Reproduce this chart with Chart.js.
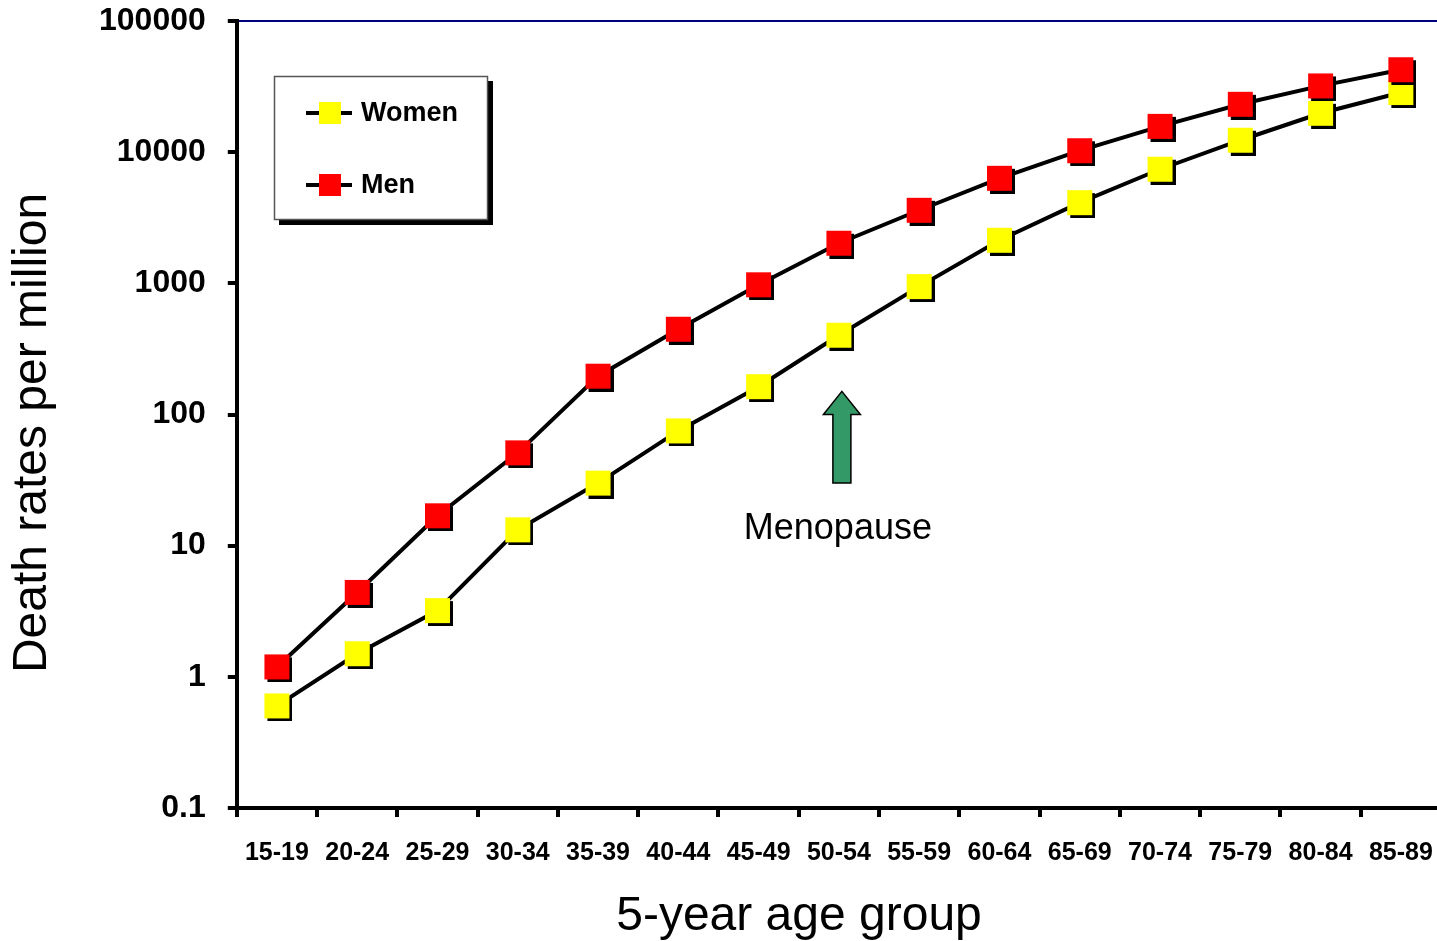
<!DOCTYPE html>
<html>
<head>
<meta charset="utf-8">
<script src="https://cdn.jsdelivr.net/npm/chart.js@4.4.0/dist/chart.umd.min.js"></script>
<style>
  html, body { margin: 0; padding: 0; overflow: hidden; background: #fff; }
  canvas { display: block; }
</style>
</head>
<body>
<canvas id="myChart" width="1460" height="941"></canvas>
<script>
// age groups on the x axis
const ageGroups = ["15-19", "20-24", "25-29", "30-34", "35-39", "40-44", "45-49", "50-54",
                   "55-59", "60-64", "65-69", "70-74", "75-79", "80-84", "85-89"];

// death rates per million
const women = [0.6, 1.5, 3.2, 13.2, 30, 75, 163, 402, 944, 2130, 4120, 7410, 12330, 19800, 28500];
const men   = [1.19, 4.4, 16.9, 51, 196, 447, 975, 2022, 3606, 6324, 10260, 15740, 23170, 32000, 42500];

const yTicks = [0.1, 1, 10, 100, 1000, 10000, 100000];

const seriesNames = ["Women", "Men"];
const seriesColors = ["#ffff00", "#ff0000"];
const xTitle = "5-year age group";
const yTitle = "Death rates per million";

// menopause arrow (in data units)
const arrowGroup = "50-54";
const arrowTip = 150, arrowHead = 100, arrowTail = 30, noteAt = 13.3;
const noteLabel = "Menopause";

Chart.defaults.font.family = '"Liberation Sans", Arial, Helvetica, sans-serif';
Chart.defaults.color = "#000";

// square marker with a black drop shadow
function squareMarker(color){
  const c = document.createElement("canvas");
  c.width = 31; c.height = 31;
  const g = c.getContext("2d");
  g.fillStyle = "#000";
  g.fillRect(6, 6, 25, 25);
  g.fillStyle = color;
  g.fillRect(3, 3, 25, 25);
  return c;
}

const extras = {
  id: "extras",
  afterDatasetsDraw(chart){
    const ctx = chart.ctx;
    const x = chart.scales.x, y = chart.scales.y;

    // arrow
    const ax = x.getPixelForValue(ageGroups.indexOf(arrowGroup)) + 3;
    const yt = y.getPixelForValue(arrowTip);
    const yh = y.getPixelForValue(arrowHead);
    const yb = y.getPixelForValue(arrowTail);
    ctx.save();
    ctx.beginPath();
    ctx.moveTo(ax, yt);
    ctx.lineTo(ax + 18.5, yh);
    ctx.lineTo(ax + 9, yh);
    ctx.lineTo(ax + 9, yb);
    ctx.lineTo(ax - 9, yb);
    ctx.lineTo(ax - 9, yh);
    ctx.lineTo(ax - 18.5, yh);
    ctx.closePath();
    ctx.fillStyle = "#339966";
    ctx.fill();
    ctx.lineWidth = 1.5;
    ctx.strokeStyle = "#000";
    ctx.stroke();

    ctx.font = '36px "Liberation Sans", Arial, sans-serif';
    ctx.textAlign = "center";
    ctx.textBaseline = "middle";
    ctx.fillStyle = "#000";
    ctx.fillText(noteLabel, ax - 4, y.getPixelForValue(noteAt));

    // axis titles
    ctx.font = '48px "Liberation Sans", Arial, sans-serif';
    ctx.fillText(xTitle, 799, 917);
    ctx.save();
    ctx.translate(33, 433);
    ctx.rotate(-Math.PI / 2);
    ctx.fillText(yTitle, 0, 0);
    ctx.restore();

    // legend box
    ctx.fillStyle = "#000";
    ctx.fillRect(279, 81, 214, 144);
    ctx.fillStyle = "#fff";
    ctx.fillRect(274, 76, 214, 144);
    ctx.lineWidth = 1.5;
    ctx.strokeStyle = "#555";
    ctx.strokeRect(274.5, 76.5, 213, 143);

    ctx.font = 'bold 27px "Liberation Sans", Arial, sans-serif';
    ctx.textAlign = "left";
    for (let i = 0; i < seriesNames.length; i++){
      const cy = 113 + i * 72;
      ctx.beginPath();
      ctx.moveTo(306, cy);
      ctx.lineTo(352, cy);
      ctx.lineWidth = 4;
      ctx.strokeStyle = "#000";
      ctx.stroke();
      ctx.fillStyle = seriesColors[i];
      ctx.fillRect(319, cy - 11, 22, 22);
      ctx.fillStyle = "#000";
      ctx.fillText(seriesNames[i], 361, cy + 1);
    }
    ctx.restore();
  }
};

const myChart = new Chart(document.getElementById("myChart").getContext("2d"), {
  type: "line",
  data: {
    labels: ageGroups,
    datasets: [{
      label: seriesNames[0],
      data: women,
      borderColor: "#000",
      borderWidth: 4,
      pointStyle: squareMarker(seriesColors[0]),
      pointRadius: 15,
      pointHoverRadius: 15,
      order: 1
    }, {
      label: seriesNames[1],
      data: men,
      borderColor: "#000",
      borderWidth: 4,
      pointStyle: squareMarker(seriesColors[1]),
      pointRadius: 15,
      pointHoverRadius: 15,
      order: 0
    }]
  },
  options: {
    responsive: false,
    animation: false,
    devicePixelRatio: 1,
    layout: { padding: { top: 21, right: 0, left: 77, bottom: 52 } },
    plugins: { legend: { display: false }, tooltip: { enabled: false } },
    scales: {
      x: {
        offset: true,
        grid: { offset: true, drawOnChartArea: false, color: "#000", lineWidth: 4, tickLength: 9 },
        border: { color: "#000", width: 4 },
        ticks: { color: "#000", font: { size: 25, weight: "bold" }, padding: 21, maxRotation: 0, autoSkip: false }
      },
      y: {
        type: "logarithmic",
        min: 0.1,
        max: 100000,
        afterBuildTicks: function(scale){ scale.ticks = yTicks.map(v => ({ value: v })); },
        afterFit: function(scale){ scale.paddingTop = 0; },
        grid: {
          color: c => (c.tick && c.tick.value === 100000) ? "#000080" : "rgba(0,0,0,0)",
          lineWidth: 2, tickColor: "#000", tickWidth: 4, tickLength: 9
        },
        border: { color: "#000", width: 4 },
        ticks: { color: "#000", font: { size: 32, weight: "bold" }, padding: 22,
                 callback: v => String(v) }
      }
    }
  },
  plugins: [extras]
});
</script>
</body>
</html>
